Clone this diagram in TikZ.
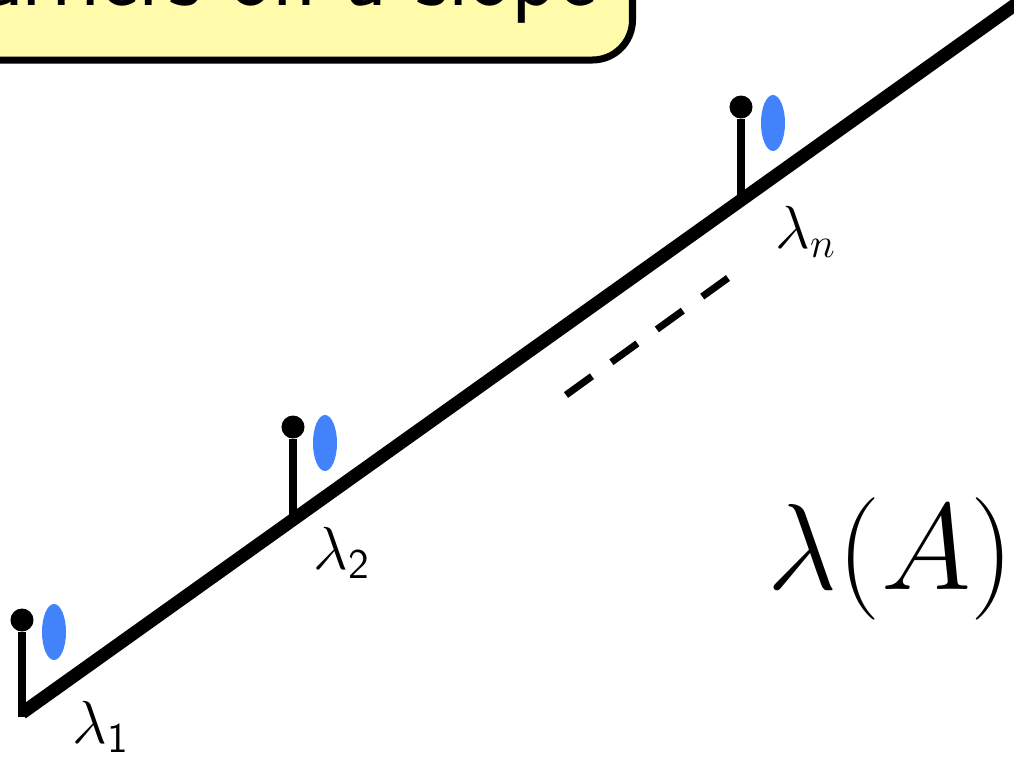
\documentclass[tikz,border=0pt]{standalone}
\usepackage{xcolor}
\usepackage{amsmath}
\usepackage{tikz}
\usetikzlibrary{shapes.geometric, arrows.meta, positioning, calc}

\definecolor{blobblue}{RGB}{66,130,250}
\definecolor{boxyellow}{RGB}{255,251,170}

\begin{document}
\begin{tikzpicture}[
  x=0.01cm, y=-0.01cm,
  slope/.style={line width=0.13cm},
  stick/.style={line width=0.07cm},
  ball/.style={circle, fill=black, inner sep=0pt, minimum size=0.23cm},
  blob/.style={ellipse, fill=blobblue, inner sep=0pt, minimum width=0.24cm, minimum height=0.56cm},
  eig/.style={inner sep=0pt, font=\fontsize{17.28}{21}\selectfont},
  title/.style={rectangle, draw, line width=0.07cm, rounded corners=0.4cm, fill=boxyellow,
    inner xsep=0.36cm, inner ysep=0.36cm, text depth=0.18cm,
    font=\sffamily\fontsize{26}{30}\selectfont}
]
  \clip (0,0) rectangle (1014,760);
  \useasboundingbox (0,0) rectangle (1014,760);

  \node[title, anchor=south east] (head) at (636,63.5) {Barriers on a slope};

  \coordinate (l1) at (22,713);
  \coordinate (foot) at (22,717);
  \coordinate (l2) at (293,520);
  \coordinate (ln) at (741,200);
  \coordinate (end) at (1040,-13);

  \node[ball] (b1) at (22,620) {};
  \node[ball] (b2) at (293,427) {};
  \node[ball] (bn) at (741,107) {};

  \node[blob] (e1) at (54,632) {};
  \node[blob] (e2) at (325,443) {};
  \node[blob] (en) at (773,123) {};

  \draw[slope] (l1) -- (end);
  \draw[stick] (foot) -- (b1);
  \draw[stick] (l2) -- (b2);
  \draw[stick] (ln) -- (bn);

  \coordinate (d1) at (566,395);
  \coordinate (d2) at (728,278);
  \draw[stick, dash pattern=on 0.32cm off 0.24cm] (d1) -- (d2);

  \node[eig] (t1) at (101,727) {$\lambda_{\mathsf{1}}$};
  \node[eig] (t2) at (342,553) {$\lambda_{\mathsf{2}}$};
  \node[eig] (tn) at (806,232) {$\lambda_n$};

  \node[inner sep=0pt, font=\fontsize{24.88}{30}\selectfont] (spec) at (891,559) {\scalebox{1.4}{$\lambda(A)$}};
\end{tikzpicture}
\end{document}
